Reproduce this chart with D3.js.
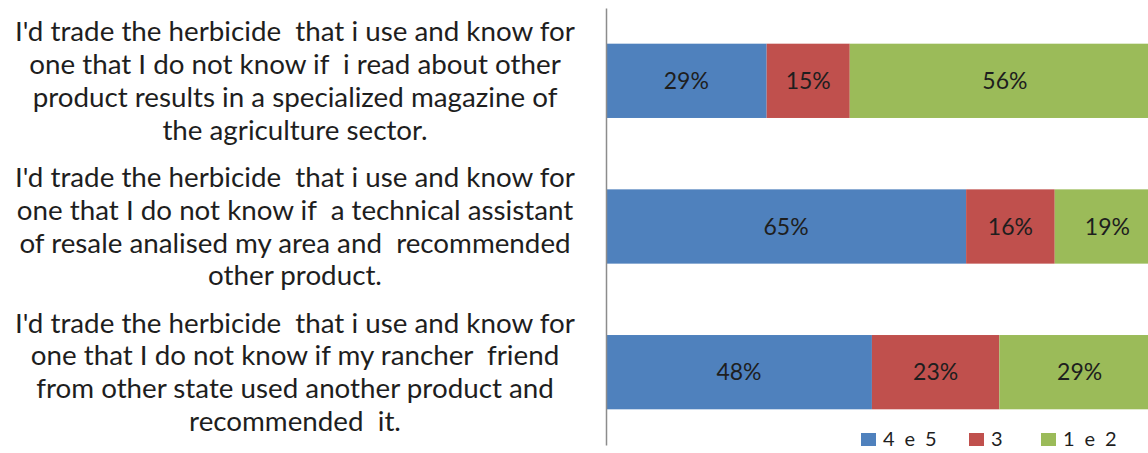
<!DOCTYPE html>
<html>
<head>
<meta charset="utf-8">
<script src="https://cdn.jsdelivr.net/npm/d3@7"></script>
<style>
  html, body { margin: 0; padding: 0; background: #fff; }
  svg { display: block; font-family: Lato, "Open Sans", sans-serif; }
</style>
</head>
<body>
<svg id="chart" width="1148" height="453"></svg>
<script>
var categories = ["magazine", "assistant", "friend"];

var categoryLines = [
	["I'd trade the herbicide  that i use and know for",
	 "one that I do not know if  i read about other",
	 "product results in a specialized magazine of",
	 "the agriculture sector."],
	["I'd trade the herbicide  that i use and know for",
	 "one that I do not know if  a technical assistant",
	 "of resale analised my area and  recommended",
	 "other product."],
	["I'd trade the herbicide  that i use and know for",
	 "one that I do not know if my rancher  friend",
	 "from other state used another product and",
	 "recommended  it."]
];

var seriesNames = ["4 e 5", "3", "1 e 2"];
var high = [0.29, 0.65, 0.48];
var mid = [0.15, 0.16, 0.23];
var low = [0.56, 0.19, 0.29];
var colours = ["#4f81bd", "#c0504d", "#9bbb59"];

var rows = categories.map(function (c, i) {
	return { cat: c, "4 e 5": high[i], "3": mid[i], "1 e 2": low[i] };
});

var svg = d3.select("#chart");

var xScale = d3.scaleLinear().domain([0, 1]).range([606, 1160]);
var yScale = d3.scaleBand()
	.domain(categories)
	.range([8, 445])
	.paddingInner(0.49)
	.paddingOuter(0.245);

var stack = d3.stack().keys(seriesNames)(rows);

var layers = svg.selectAll("g.layer")
		.data(stack)
		.enter()
	  .append("g")
		.attr("class", "layer")
		.attr("fill", function (d, i) { return colours[i]; });

layers.selectAll("rect")
		.data(function (d) { return d; })
		.enter()
	  .append("rect")
		.attr("x", function (d) { return xScale(d[0]); })
		.attr("y", function (d) { return yScale(d.data.cat); })
		.attr("width", function (d) { return xScale(d[1]) - xScale(d[0]); })
		.attr("height", yScale.bandwidth());

layers.selectAll("text")
		.data(function (d) { return d; })
		.enter()
	  .append("text")
		.attr("x", function (d) { return (xScale(d[0]) + xScale(d[1])) / 2; })
		.attr("y", function (d) { return yScale(d.data.cat) + yScale.bandwidth() / 2; })
		.attr("dy", "0.35em")
		.attr("text-anchor", "middle")
		.attr("fill", "#1e1e1e")
		.style("font-size", "23px")
		.text(function (d) { return Math.round((d[1] - d[0]) * 100) + "%"; });

// vertical category axis, labels drawn separately
var axis = svg.append("g")
	.attr("transform", "translate(606,0)")
	.call(d3.axisLeft(yScale).tickSize(0).tickFormat(""));
axis.select(".domain").attr("stroke", "#8c8c8c").attr("stroke-width", 1.5);

var lineGap = 32.8;
var labels = svg.selectAll("text.cat")
		.data(categories)
		.enter()
	  .append("text")
		.attr("class", "cat")
		.attr("text-anchor", "middle")
		.attr("fill", "#1e1e1e")
		.style("font-size", "20px");

labels.each(function (c, i) {
	var lines = categoryLines[i];
	var cy = yScale(c) + yScale.bandwidth() / 2;
	var top = cy - (lines.length - 1) * lineGap / 2;
	d3.select(this).selectAll("tspan")
		.data(lines)
		.enter()
	  .append("tspan")
		.attr("x", 295)
		.attr("y", function (d, j) { return top + j * lineGap; })
		.attr("dy", "0.35em")
		.style("white-space", "pre")
		.text(function (d) { return d; });
});

// size the label font so the first line spans about 560px, as in the source
var firstLine = labels.select("tspan").node();
var fitSize = 20 * 560 / firstLine.getComputedTextLength();
labels.style("font-size", fitSize + "px");

var legendX = [861, 969, 1041];
var legend = svg.selectAll("g.legend")
		.data(seriesNames)
		.enter()
	  .append("g")
		.attr("class", "legend")
		.attr("transform", function (d, i) { return "translate(" + legendX[i] + ",439)"; });

legend.append("rect")
	.attr("x", 0)
	.attr("y", -6)
	.attr("width", 15)
	.attr("height", 13)
	.attr("fill", function (d, i) { return colours[i]; });

legend.append("text")
	.attr("x", 22)
	.attr("y", 0)
	.attr("dy", "0.36em")
	.attr("fill", "#1e1e1e")
	.style("font-size", "20px")
	.style("letter-spacing", "2.4px")
	.text(function (d) { return d; });
</script>
</body>
</html>
